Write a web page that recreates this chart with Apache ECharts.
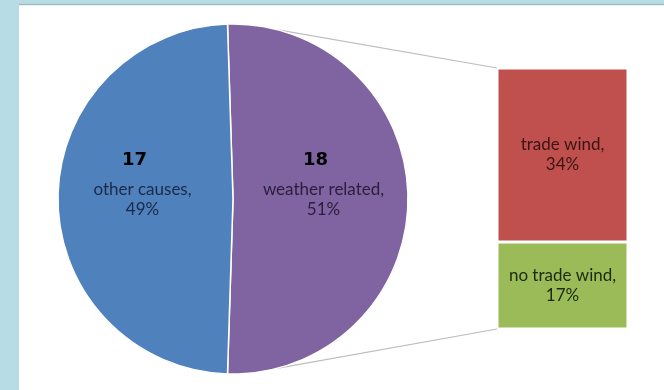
<!DOCTYPE html>
<html>
<head>
<meta charset="utf-8">
<script src="https://cdn.jsdelivr.net/npm/echarts@6/dist/echarts.min.js"></script>
<style>
  html, body { margin: 0; padding: 0; background: #b7dce5; }
  #main { width: 664px; height: 390px; }
</style>
</head>
<body>
<div id="main"></div>
<script>
// pie: clockwise from top
const pieNames = ['weather related', 'other causes'];
const pieCounts = [18, 17];
const piePct = [51, 49];
// bar of pie: bottom to top
const barNames = ['no trade wind', 'trade wind'];
const barPct = [17, 34];

const pieColors = ['#8064a2', '#4f81bd'];
const pieTextColors = ['#2a1d3c', '#1b2a47'];
const barColors = ['#9bbb59', '#c0504d'];
const barTextColors = ['#1c2a0c', '#3a1414'];

const pieCx = 233, pieCy = 199, pieR = 175;
const barLeft = 497, barRight = 36, barTop = 68, barBottom = 61;
const connectorAngle = 15; // degrees away from vertical

const chart = echarts.init(document.getElementById('main'));

const total = barPct.reduce((a, b) => a + b, 0);
const startAngle = 90 + (piePct[0] / 100 * 360 - 180) / 2;

function background(extra) {
  return [
    { type: 'rect', z: -10, shape: { x: 19, y: 5, width: 645, height: 385 }, style: { fill: '#ffffff' }, silent: true },
    { type: 'line', z: -9, shape: { x1: 19, y1: 4.5, x2: 664, y2: 4.5 }, style: { stroke: '#a3bcc3', lineWidth: 1.5 }, silent: true }
  ].concat(extra || []);
}

const option = {
  backgroundColor: '#b7dce5',
  animation: false,
  graphic: background(),
  grid: { left: barLeft, right: barRight, top: barTop, bottom: barBottom },
  xAxis: { type: 'category', data: ['weather related'], show: false },
  yAxis: { type: 'value', min: 0, max: total, show: false },
  series: [
    {
      type: 'pie',
      center: [pieCx, pieCy],
      radius: pieR,
      startAngle: startAngle,
      clockwise: true,
      silent: true,
      itemStyle: { borderColor: '#ffffff', borderWidth: 1.5 },
      data: pieNames.map((n, i) => ({
        name: n,
        value: piePct[i],
        itemStyle: { color: pieColors[i] },
        label: {
          position: 'inside',
          padding: [0, 0, 38, 0],
          formatter: '{n|' + pieCounts[i] + '}\n{t|' + n + ',}\n{t|' + piePct[i] + '%}',
          rich: {
            n: { fontFamily: 'DejaVu Sans', fontWeight: 'bold', fontSize: 18, color: '#000', lineHeight: 40, padding: [0, 16, 0, 0] },
            t: { fontFamily: 'Lato', fontSize: 17, color: pieTextColors[i], lineHeight: 20 }
          }
        }
      })),
      labelLine: { show: false }
    }
  ].concat(barNames.map((n, i) => ({
    type: 'bar',
    stack: 'w',
    barWidth: '100%',
    silent: true,
    itemStyle: { color: barColors[i], borderColor: '#ffffff', borderWidth: 1.5 },
    label: {
      show: true,
      position: 'inside',
      fontFamily: 'Lato',
      fontSize: 17,
      lineHeight: 20,
      color: barTextColors[i],
      formatter: n + ',\n' + barPct[i] + '%'
    },
    data: [barPct[i]]
  })))
};

chart.setOption(option);

// connector lines from the pie edge to the bar corners
const a = connectorAngle * Math.PI / 180;
const px = pieCx + pieR * Math.sin(a);
const pyTop = pieCy - pieR * Math.cos(a);
const pyBot = pieCy + pieR * Math.cos(a);
const yTop = chart.convertToPixel({ yAxisIndex: 0 }, total);
const yBot = chart.convertToPixel({ yAxisIndex: 0 }, 0);
chart.setOption({
  graphic: background([
    { type: 'line', z: -8, shape: { x1: px, y1: pyTop, x2: barLeft, y2: yTop }, style: { stroke: '#bdbdbd', lineWidth: 1.2 }, silent: true },
    { type: 'line', z: -8, shape: { x1: px, y1: pyBot, x2: barLeft, y2: yBot }, style: { stroke: '#bdbdbd', lineWidth: 1.2 }, silent: true }
  ])
});
</script>
</body>
</html>
